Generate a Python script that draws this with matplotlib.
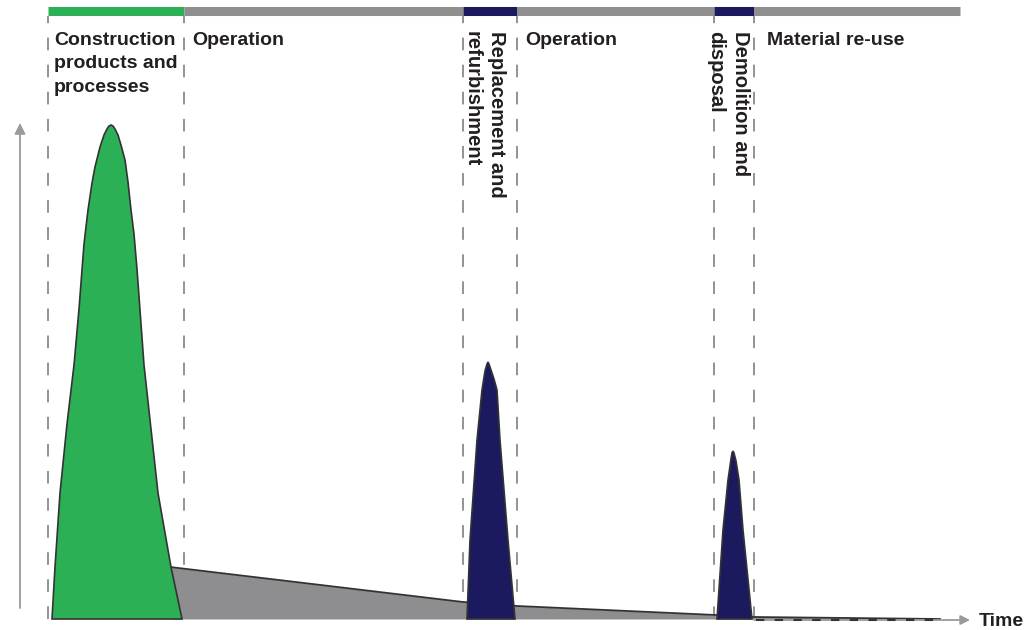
import matplotlib.pyplot as plt

plt.rcParams['font.family'] = ['Liberation Sans', 'DejaVu Sans']

# stage boundaries along the time axis and the top bar colour of each stage
stage_edges = [48, 184, 463, 517, 714, 754, 960]
stage_kind = ['build', 'use', 'event', 'use', 'event', 'use']

# impact curves (time, impact)
green_t = [52, 55, 60, 67, 74, 79, 84, 88, 92, 95, 100, 104, 107, 109, 111, 113, 115, 118, 121, 125, 128, 131, 134, 137, 144, 151, 158, 171, 182]
green_v = [0, 52, 126, 195, 254, 310, 375, 409, 436, 452, 472, 484, 490, 493, 494, 493, 490, 484, 474, 459, 437, 409, 385, 350, 254, 190, 126, 52, 0]

oper_t = [170, 463, 517, 716, 754, 940]
oper_v = [52, 17, 13, 4, 2, 0]

repl_t = [467, 470, 477, 482, 485, 487, 488, 489, 491, 494, 497, 500, 508, 515]
repl_v = [0, 79, 179, 229, 248, 255, 257, 255, 249, 240, 229, 179, 79, 0]

demo_t = [717, 723, 728, 731, 732, 733, 734, 736, 739, 743, 752]
demo_v = [0, 89, 139, 160, 166, 168, 166, 158, 139, 89, 0]

GREEN = '#2bb056'
NAVY = '#1b1a5f'
GREY = '#8e8e90'
BAR_GREY = '#8f8f8f'
TXT = '#231f20'
colors = {'build': GREEN, 'use': BAR_GREY, 'event': NAVY}

fig = plt.figure(figsize=(10.25, 6.3), dpi=100)
ax = fig.add_axes([0, 0, 1, 1])
ax.set_xlim(0, 1025)
ax.set_ylim(-11, 619)
ax.axis('off')

# top stage bar
for i, k in enumerate(stage_kind):
    ax.plot([stage_edges[i], stage_edges[i + 1]], [608, 608], color=colors[k],
            lw=6.5, solid_capstyle='butt', zorder=3)

# dashed stage separators
for x in stage_edges[:-1]:
    ln, = ax.plot([x, x], [0, 603], color='#8a8a8a', lw=1.3, zorder=1)
    ln.set_dashes((7, 8))

# operational impact (grey wedge)
ax.fill_between(oper_t, oper_v, 0, color=GREY, lw=0, zorder=2)
ax.plot(oper_t, oper_v, color='#333333', lw=1.3, zorder=2)

# peaks
ax.fill(green_t, green_v, facecolor=GREEN, edgecolor='#333333', lw=1.2, zorder=4)
ax.fill(repl_t, repl_v, facecolor=NAVY, edgecolor='#333333', lw=1.2, zorder=4)
ax.fill(demo_t, demo_v, facecolor=NAVY, edgecolor='#333333', lw=1.2, zorder=4)

# axes arrows
ax.annotate('', xy=(20, 496), xytext=(20, 11),
            arrowprops=dict(arrowstyle='-|>', color='#9a9a9a', lw=1.3,
                            mutation_scale=16, shrinkA=0, shrinkB=0))
ax.annotate('', xy=(970, -1), xytext=(754, -1),
            arrowprops=dict(arrowstyle='-|>', color='#9a9a9a', lw=1.3,
                            mutation_scale=14, shrinkA=0, shrinkB=0), zorder=3)
ln, = ax.plot([756, 935], [-1, -1], color='#333333', lw=1.5, zorder=3)
ln.set_dashes((4, 5))
ax.text(979, -3, 'Time', fontsize=14, fontweight='bold', color=TXT,
        ha='left', va='center')

# stage labels
lab = dict(fontsize=14, fontweight='bold', color=TXT, va='top', ha='left',
           linespacing=1.5)
ax.text(54, 587, 'Construction\nproducts and\nprocesses', **lab)
ax.text(192, 587, 'Operation', **lab)
ax.text(525, 587, 'Operation', **lab)
ax.text(767, 587, 'Material re-use', **lab)

rot = dict(fontsize=14.5, fontweight='bold', color=TXT, va='top', ha='center',
           rotation=-90, multialignment='left', linespacing=1.35)
ax.text(484, 588, 'Replacement and\nrefurbishment', **rot)
ax.text(728, 588, 'Demolition and\ndisposal', **rot)

fig.savefig('out.png', dpi=100)
